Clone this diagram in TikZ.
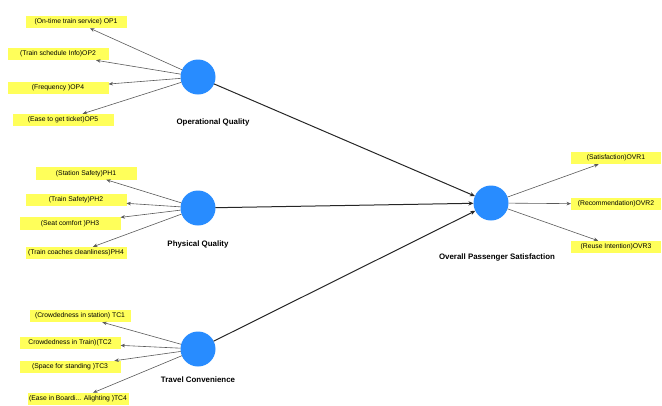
\documentclass[tikz,border=0pt]{standalone}
\usepackage{fontspec}
\setmainfont{Liberation Sans}
\usetikzlibrary{arrows.meta}
\definecolor{indbox}{RGB}{255,255,90}
\definecolor{latent}{RGB}{40,140,255}
\definecolor{indline}{RGB}{90,90,90}
\begin{document}
\begin{tikzpicture}[x=1pt,y=-1pt,
  ind/.style={fill=indbox, font=\fontsize{6.8}{7.5}\selectfont, minimum height=12.5pt,
    minimum width=101pt, inner sep=1pt, outer sep=0pt},
  indr/.style={ind, minimum width=90pt},
  lat/.style={circle, fill=latent, minimum size=35pt, inner sep=0pt, outer sep=0pt},
  lbl/.style={font=\bfseries\fontsize{7.9}{9}\selectfont},
  load/.style={draw=indline, line width=0.6pt, -{Stealth[length=4.5pt,width=3.6pt]}},
  path/.style={draw=black!85, line width=1pt, -{Stealth[length=5pt,width=4.2pt]}}]
\useasboundingbox (0,0) rectangle (662,405);

% latent constructs
\node[lat] (op)  at (198,77)  {};
\node[lat] (ph)  at (198,208) {};
\node[lat] (tc)  at (198,349) {};
\node[lat] (ovr) at (491,203) {};

\node[lbl] (opl)  at (213,122) {Operational Quality};
\node[lbl] (phl)  at (198,244) {Physical Quality};
\node[lbl] (tcl)  at (198,380) {Travel Convenience};
\node[lbl] (ovrl) at (497,257) {Overall Passenger Satisfaction};

% indicators
\node[ind] (op1) at (76,22)  {(On-time train service) OP1};
\node[ind] (op2) at (58,54)  {(Train schedule Info)OP2};
\node[ind] (op4) at (58,88)  {(Frequency )OP4};
\node[ind] (op5) at (63,120) {(Ease to get ticket)OP5};

\node[ind] (ph1) at (86,173.5) {(Station Safety)PH1};
\node[ind] (ph2) at (76,200)   {(Train Safety)PH2};
\node[ind] (ph3) at (70,223.5) {(Seat comfort )PH3};
\node[ind] (ph4) at (76,253)   {(Train coaches cleanliness)PH4};

\node[ind] (tc1) at (80,316) {(Crowdedness in station) TC1};
\node[ind] (tc2) at (70,343) {Crowdedness in Train)(TC2};
\node[ind] (tc3) at (70,367) {(Space for standing )TC3};
\node[ind] (tc4) at (78,399) {(Ease in Boardi... Alighting )TC4};

\node[indr] (ovr1) at (616,158) {(Satisfaction)OVR1};
\node[indr] (ovr2) at (616,204) {(Recommendation)OVR2};
\node[indr] (ovr3) at (616,247) {(Reuse Intention)OVR3};

% loadings
\foreach \t in {op1,op2,op4,op5} \draw[load] (op) -- (\t);
\foreach \t in {ph1,ph2,ph3,ph4} \draw[load] (ph) -- (\t);
\foreach \t in {tc1,tc2,tc3,tc4} \draw[load] (tc) -- (\t);
\foreach \t in {ovr1,ovr2,ovr3} \draw[load] (ovr) -- (\t);

% structural paths
\draw[path] (op) -- (ovr);
\draw[path] (ph) -- (ovr);
\draw[path] (tc) -- (ovr);
\end{tikzpicture}
\end{document}
